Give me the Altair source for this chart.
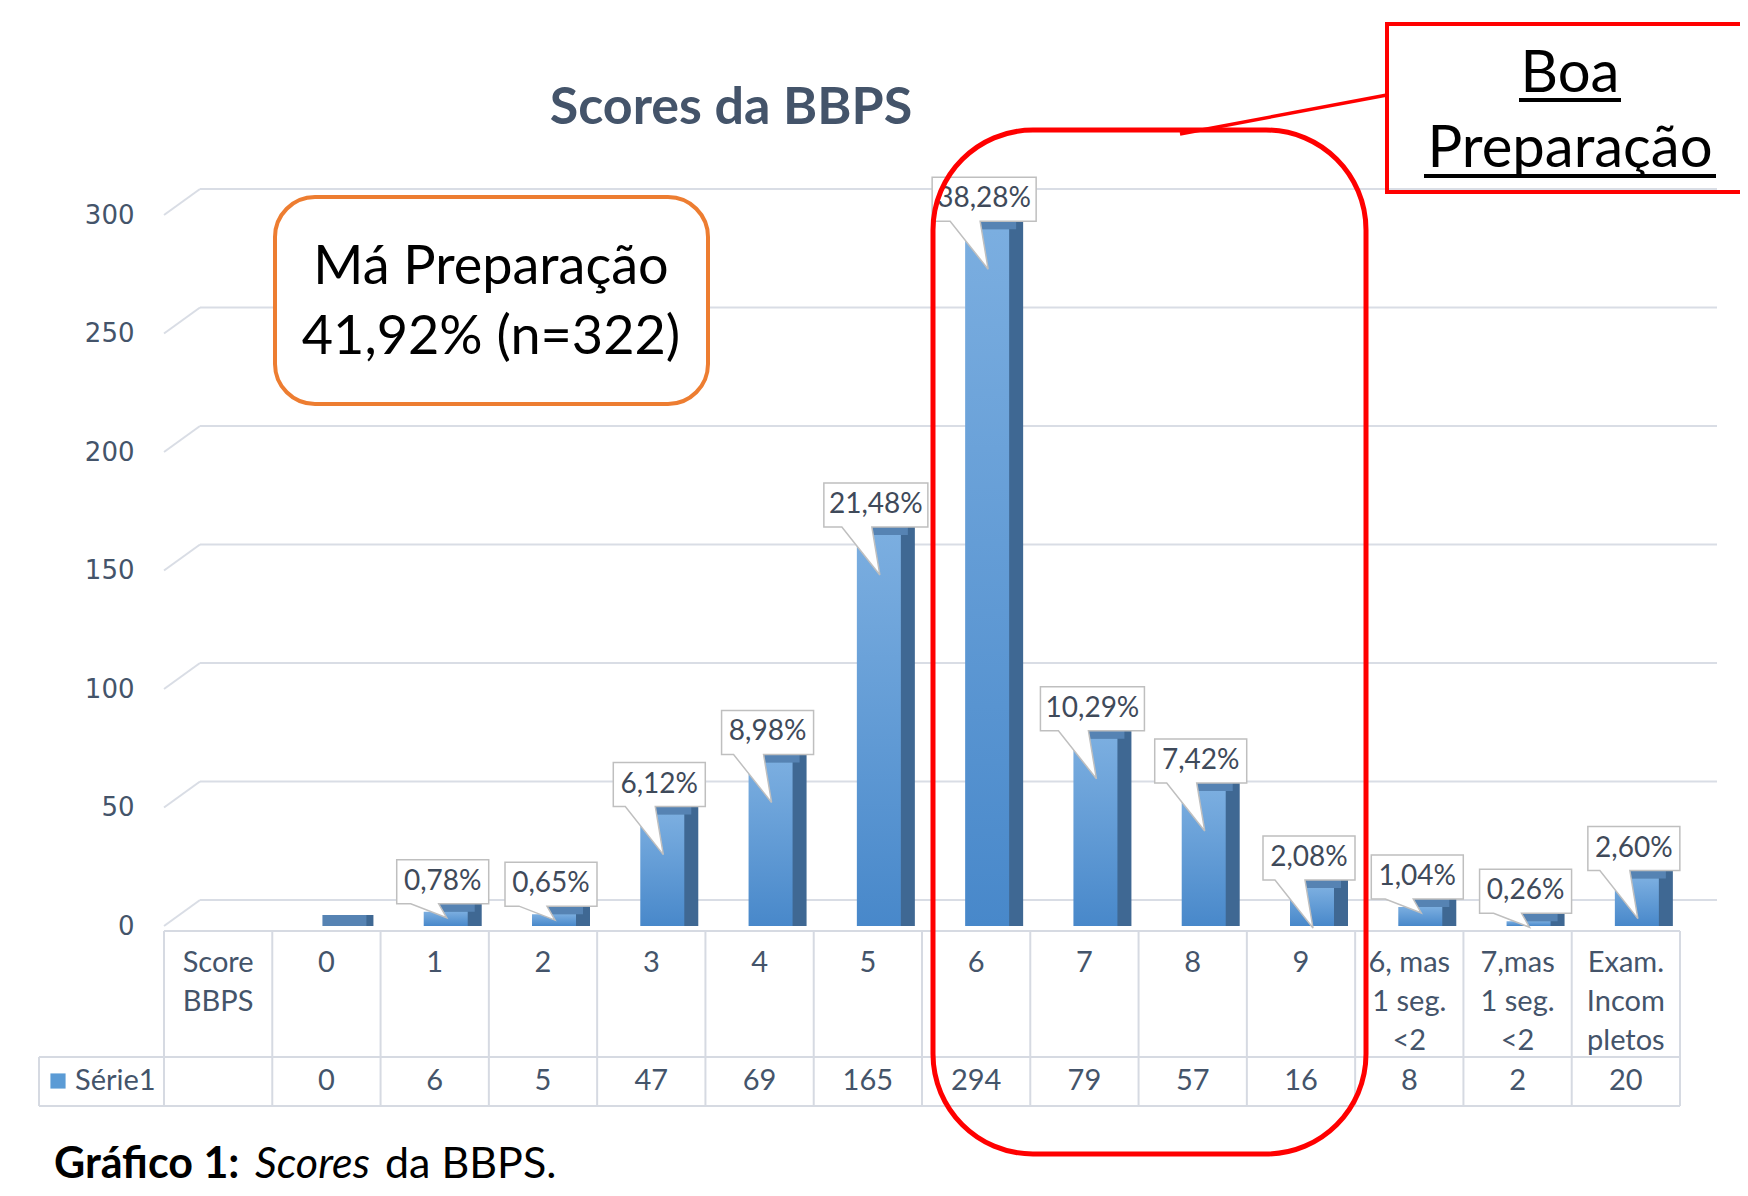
import altair as alt
import pandas as pd

# ---------------- data ----------------
categories = ["Score BBPS", "0", "1", "2", "3", "4", "5", "6", "7", "8", "9",
              "6, mas 1 seg. <2", "7,mas 1 seg. <2", "Exam. Incom pletos"]
header_labels = ["Score\nBBPS", "0", "1", "2", "3", "4", "5", "6", "7", "8", "9",
                 "6, mas\n1 seg.\n<2", "7,mas\n1 seg.\n<2", "Exam.\nIncom\npletos"]
counts = [None, 0, 6, 5, 47, 69, 165, 294, 79, 57, 16, 8, 2, 20]
pct_labels = ["", "", "0,78%", "0,65%", "6,12%", "8,98%", "21,48%", "38,28%",
              "10,29%", "7,42%", "2,08%", "1,04%", "0,26%", "2,60%"]
y_ticks = [0, 50, 100, 150, 200, 250, 300]
series_name = "Série1"
title_text = "Scores da BBPS"
bad_prep = ["Má Preparação", "41,92% (n=322)"]
good_prep = ["Boa", "Preparação"]
caption = ["Gráfico 1:", "Scores", "da BBPS."]

# ---------------- layout / style ----------------
W, H = 1516, 1180
PAD_L, PAD_R = 156, 60
ZERO_PX, TOP_PX = 918, 207          # view pixel of value 0 and of value 300
k = (ZERO_PX - TOP_PX) / 300
y_min = -(H - ZERO_PX) / k
y_max = 300 + TOP_PX / k

FONT = "Lato"
AXC = "#44546A"
GRID = "#D9DDE5"
TBL = "#D6DAE2"

df = pd.DataFrame({
    "cat": categories,
    "header": header_labels,
    "count": counts,
    "pct": pct_labels,
})
df["count_txt"] = ["" if c is None or pd.isna(c) else str(int(c)) for c in df["count"]]
df["base"] = 0

bars_df = df[df["count"].notna()].copy()
callout_df = df[df["pct"] != ""].copy()
callout_df["key"] = [("l" if len(p) > 5 else "s") + ("L" if c >= 16 else "S")
                     for p, c in zip(callout_df["pct"], callout_df["count"])]

# callout shapes in pixel units (size=4 -> scale 1)
shape_paths = {
    "lL": "M-44,-52L60,-52L60,-8L4,-8L12,40L-26,-8L-44,-8Z",
    "lS": "M-44,-52L60,-52L60,-8L4,-8L12,6L-24,-8L-44,-8Z",
    "sL": "M-38,-52L54,-52L54,-8L4,-8L12,40L-26,-8L-38,-8Z",
    "sS": "M-38,-52L54,-52L54,-8L4,-8L12,6L-24,-8L-38,-8Z",
}

dummy = pd.DataFrame({"a": [0]})

x_scale = alt.Scale(domain=categories, paddingInner=0, paddingOuter=0)
y_scale = alt.Scale(domain=[y_min, y_max], nice=False, zero=False)
y_axis = alt.Axis(values=y_ticks, grid=False, domain=False, ticks=False, labelPadding=30,
                  labelFont="DejaVu Sans", labelFontSize=26, labelColor=AXC, title=None)


def X(**kw):
    return alt.X("cat:N", scale=x_scale, axis=None, **kw)


def Y(field):
    return alt.Y(field, scale=y_scale, axis=y_axis)


def line(x0, x1, y0, y1, color=TBL, width=2):
    return alt.Chart(dummy).mark_rule(color=color, strokeWidth=width).encode(
        x=alt.value(x0), x2=alt.value(x1), y=alt.value(y0), y2=alt.value(y1))


def label(txt, x, y, size, **kw):
    return alt.Chart(dummy).mark_text(text=txt, font=FONT, fontSize=size, **kw).encode(
        x=alt.value(x), y=alt.value(y))


grid_df = pd.DataFrame({"v": y_ticks})

grid = alt.Chart(grid_df).mark_rule(color=GRID, strokeWidth=2, yOffset=-26).encode(
    x=alt.value(36), x2=alt.value(W + 37), y=Y("v:Q"))
diag = alt.Chart(grid_df).mark_rule(color=GRID, strokeWidth=2, y2Offset=-26).encode(
    x=alt.value(0), x2=alt.value(36), y=Y("v:Q"), y2="v:Q")

# table
T_TOP, T_MID, T_BOT, T_LEFT = 923, 1049, 1098, -125
vlines = alt.Chart(df).mark_rule(color=TBL, strokeWidth=2).encode(
    x=X(bandPosition=0), y=alt.value(T_TOP), y2=alt.value(T_BOT))
table_lines = [
    vlines,
    line(W, W, T_TOP, T_BOT),
    line(T_LEFT, T_LEFT, T_MID, T_BOT),
    line(0, W, T_TOP, T_TOP),
    line(T_LEFT, W, T_MID, T_MID),
    line(T_LEFT, W, T_BOT, T_BOT),
]
header_txt = alt.Chart(df).mark_text(lineBreak="\n", baseline="top", font=FONT, fontSize=29,
                                     lineHeight=39, color=AXC).encode(
    x=X(), y=alt.value(941), text="header:N")
value_txt = alt.Chart(df).mark_text(baseline="middle", font=FONT, fontSize=29, color=AXC).encode(
    x=X(), y=alt.value(1073), text="count_txt:N")
legend_sq = alt.Chart(dummy).mark_point(shape="square", filled=True, size=230, color="#5B9BD5",
                                        opacity=1).encode(x=alt.value(-106), y=alt.value(1073))
legend_txt = label(series_name, -89, 1073, 29, align="left", baseline="middle", color=AXC)

# orange box
orange_box = alt.Chart(dummy).mark_rect(cornerRadius=40, fill="white", stroke="#ED7D31",
                                        strokeWidth=4).encode(
    x=alt.value(111), x2=alt.value(544), y=alt.value(189), y2=alt.value(396))
orange_t1 = label(bad_prep[0], 327, 260, 54, align="center", baseline="middle", color="black")
orange_t2 = label(bad_prep[1], 327, 330, 54, align="center", baseline="middle", color="black")

# bars (3D look)
side = alt.Chart(bars_df).mark_bar(width=44, xOffset=25, yOffset=-11, color="#3F6893").encode(
    x=X(), y=Y("count:Q"), y2="base:Q")
cap = alt.Chart(bars_df).mark_bar(width=44, xOffset=18, yOffset=-11, color="#5683B3").encode(
    x=X(), y=Y("count:Q"), y2="count:Q")
front = alt.Chart(bars_df).mark_bar(
    width=44, xOffset=11,
    color=alt.Gradient(gradient="linear", x1=0, x2=0, y1=0, y2=1,
                       stops=[alt.GradientStop(color="#7BAEE0", offset=0),
                              alt.GradientStop(color="#4888CA", offset=1)])).encode(
    x=X(), y=Y("count:Q"), y2="base:Q")

# callouts
callout = alt.Chart(callout_df).mark_point(filled=True, size=4, color="white", stroke="#BFBFBF",
                                           strokeWidth=1.5, opacity=1).encode(
    x=X(), y=Y("count:Q"),
    shape=alt.Shape("key:N", scale=alt.Scale(domain=list(shape_paths.keys()),
                                             range=list(shape_paths.values())), legend=None))
callout_txt = alt.Chart(callout_df).mark_text(dx=8, dy=-30, font=FONT, fontSize=28,
                                              color="#3F4A5A").encode(
    x=X(), y=Y("count:Q"), text="pct:N")

# title & caption
title = label(title_text, 567, 100, 52, fontWeight="bold", color=AXC, align="center",
              baseline="middle")
cap1 = label(caption[0], -110, 1157, 43, fontWeight="bold", color="black", align="left",
             baseline="middle")
cap2 = label(caption[1], 91, 1157, 43, fontStyle="italic", color="black", align="left",
             baseline="middle")
cap3 = label(caption[2], 221, 1157, 43, color="black", align="left", baseline="middle")

# red annotations
red_rect = alt.Chart(dummy).mark_rect(cornerRadius=100, fill="white", fillOpacity=0, stroke="#FF0000",
                                      strokeWidth=5).encode(
    x=alt.value(769), x2=alt.value(1202), y=alt.value(122), y2=alt.value(1146))
boa_box = alt.Chart(dummy).mark_rect(fill="white", fillOpacity=0, stroke="#FF0000",
                                     strokeWidth=4).encode(
    x=alt.value(1223), x2=alt.value(1600), y=alt.value(16), y2=alt.value(184))
connector = line(1223, 1016, 87, 126, color="#FF0000", width=3.5)
boa_t1 = label(good_prep[0], 1406, 84, 58, align="center", baseline="alphabetic", color="black")
boa_t2 = label(good_prep[1], 1406, 159, 58, align="center", baseline="alphabetic", color="black")
ul1 = line(1355, 1457, 92, 92, color="black", width=4)
ul2 = line(1260, 1552, 168, 168, color="black", width=4)

chart = alt.layer(
    grid, diag, *table_lines, orange_box, orange_t1, orange_t2,
    side, cap, front, callout, callout_txt,
    header_txt, value_txt, legend_sq, legend_txt,
    title, cap1, cap2, cap3,
    red_rect, boa_box, connector, boa_t1, boa_t2, ul1, ul2,
).properties(
    width=W, height=H,
    padding={"left": PAD_L, "right": PAD_R, "top": 0, "bottom": 0},
    autosize=alt.AutoSizeParams(type="none"),
    background="white",
).configure_view(stroke=None)

chart.save("out.html", embed_options={"renderer": "svg", "actions": False})
